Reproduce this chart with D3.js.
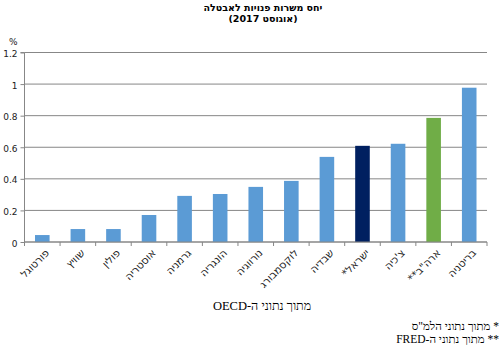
<!DOCTYPE html>
<html><head><meta charset="utf-8">
<script src="https://cdn.jsdelivr.net/npm/d3@7/dist/d3.min.js"></script>
<style>body{margin:0;background:#fff}svg{display:block}</style>
</head><body>
<svg id="c" width="503" height="358"></svg>
<script>
const categories = ["פורטוגל","שוויץ","פולין","אוסטריה","גרמניה","הונגריה","נורווגיה","לוקסמבורג","שבדיה","ישראל*","צ'כיה","ארה\"ב**","בריטניה"];
const values = [0.044,0.082,0.082,0.171,0.292,0.304,0.349,0.387,0.539,0.609,0.622,0.786,0.977];
const barColors = ["#5b9bd5","#5b9bd5","#5b9bd5","#5b9bd5","#5b9bd5","#5b9bd5","#5b9bd5","#5b9bd5","#5b9bd5","#002060","#5b9bd5","#70ad47","#5b9bd5"];
const yTicks = [0,0.2,0.4,0.6,0.8,1,1.2];
const titleLines = ["יחס משרות פנויות לאבטלה","(אוגוסט 2017)"];

const svg = d3.select("#c");
const m = {l:24.5, r:16, t:52.5, b:116};
const W = 503, H = 358;
const x = d3.scaleBand().domain(categories).range([m.l, W-m.r]).paddingInner(0.59).paddingOuter(0.295);
const y = d3.scaleLinear().domain([0,1.2]).range([H-m.b, m.t]);

// gridlines
svg.append("g").selectAll("line").data(yTicks).join("line")
  .attr("x1", m.l).attr("x2", W-m.r).attr("y1", d=>y(d)).attr("y2", d=>y(d))
  .attr("stroke","#878787").attr("stroke-width",1);

// bars
svg.append("g").selectAll("rect").data(values).join("rect")
  .attr("x",(d,i)=>x(categories[i])).attr("width",x.bandwidth())
  .attr("y",d=>y(d)).attr("height",d=>y(0)-y(d)).attr("fill",(d,i)=>barColors[i]);

// y axis
const ya = d3.axisLeft(y).tickValues(yTicks).tickSize(4).tickFormat(d=>d3.format("")(d));
const gy = svg.append("g").attr("transform",`translate(${m.l},0)`).call(ya);
gy.select(".domain").attr("stroke","#878787").attr("d",`M-4,${y(1.2)}H0V${y(0)}`);
gy.selectAll(".tick line").attr("stroke","#878787");
gy.selectAll(".tick text").attr("font-family","DejaVu Sans").attr("font-size",9).attr("fill","#222").attr("x",-7).attr("dy","0.45em");

// x axis
const xa = d3.axisBottom(x).tickSize(0).tickFormat("");
const gx = svg.append("g").attr("transform",`translate(0,${y(0)})`).call(xa);
gx.select(".domain").attr("stroke","#878787").attr("d",`M${m.l},0H${W-m.r}`);
svg.append("g").selectAll("line").data(categories.concat(["_end"])).join("line")
  .attr("x1",(d,i)=>m.l + i*(W-m.l-m.r)/categories.length)
  .attr("x2",(d,i)=>m.l + i*(W-m.l-m.r)/categories.length)
  .attr("y1",y(0)).attr("y2",y(0)+4).attr("stroke","#878787");

// category labels
svg.append("g").selectAll("text").data(categories).join("text")
  .attr("transform",d=>`translate(${x(d)+x.bandwidth()/2+2},${y(0)+6}) rotate(-45)`)
  .attr("direction","rtl").attr("text-anchor","start")
  .attr("dy","0.75em")
  .attr("font-family","DejaVu Sans").attr("font-size",10.5).attr("fill","#222")
  .text(d=>d);

// title
svg.append("g").selectAll("text").data(titleLines).join("text")
  .attr("x",263).attr("y",(d,i)=>11+i*11).attr("text-anchor","middle")
  .attr("direction","rtl")
  .attr("font-family","DejaVu Sans").attr("font-weight","bold").attr("font-size",9.5).attr("fill","#000")
  .text(d=>d);

// % label
svg.append("text").attr("x",9).attr("y",45).attr("font-family","DejaVu Sans").attr("font-size",9).attr("fill","#222").text("%");

// source
svg.append("text").attr("x",262).attr("y",310).attr("text-anchor","middle").attr("direction","rtl")
  .attr("font-family","Liberation Serif").attr("font-size",12.5).attr("fill","#000").text("מתוך נתוני ה-OECD");

// footnotes
const notes = ["*   מתוך נתוני הלמ\"ס","** מתוך נתוני ה-FRED"];
svg.append("g").selectAll("text").data(notes).join("text")
  .attr("x",499).attr("y",(d,i)=>330+i*13).attr("text-anchor","start").attr("direction","rtl")
  .attr("font-family","Liberation Serif").attr("font-size",11.5).attr("fill","#000").text(d=>d);
</script>
</body></html>
